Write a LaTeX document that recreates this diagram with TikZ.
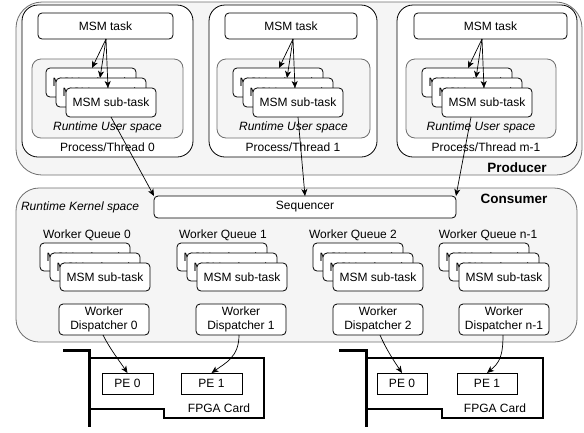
\documentclass[tikz,border=0pt]{standalone}
\usepackage{fontspec}
\setmainfont{Liberation Sans}
\usetikzlibrary{arrows.meta,calc}
\definecolor{contfill}{HTML}{F5F5F5}
\definecolor{contline}{HTML}{6E6E6E}
\begin{document}
\begin{tikzpicture}[x=1pt,y=-1pt,
  every node/.style={font=\fontsize{12}{14.4}\selectfont, inner sep=0pt, outer sep=0pt},
  box/.style={draw=black, line width=0.8pt, fill=white, rounded corners=4pt, anchor=north west},
  sub/.style={box, minimum width=90pt, minimum height=29pt},
  qsub/.style={box, minimum width=90pt, minimum height=28pt},
  disp/.style={box, minimum width=90pt, minimum height=31pt, align=center},
  cont/.style={draw=contline, fill=contfill, line width=0.8pt, anchor=north west},
  usr/.style={draw=contline, fill=contfill, line width=0.8pt, rounded corners=9pt, anchor=north west, minimum height=79pt},
  proc/.style={draw=black, fill=white, line width=0.8pt, rounded corners=16pt, anchor=north west, minimum height=152pt},
  task/.style={box, minimum height=26pt},
  pe/.style={draw=black, fill=white, line width=0.8pt, anchor=north west, minimum height=21pt},
  bold/.style={font=\fontsize{13.5}{16}\selectfont\bfseries},
  ital/.style={font=\fontsize{12}{14.4}\selectfont\itshape},
  arr/.style={-{Stealth[length=7pt,width=6pt,inset=2pt]}, line width=0.7pt},
  card/.style={line width=2pt, miter limit=10},
  bracket/.style={line width=3pt}
]
\useasboundingbox (0,0) rectangle (584,432);

% containers
\node[cont, rounded corners=26pt, minimum width=566pt, minimum height=173pt] (prod) at (16,2) {};
\node[cont, rounded corners=23pt, minimum width=561pt, minimum height=154pt] (cons) at (16,188) {};
\node[bold] (prodl) at (517,168) {Producer};
\node[bold] (consl) at (514,199) {Consumer};
\node[ital, anchor=west] (kern) at (21,207) {Runtime Kernel space};

% processes
\node[proc, minimum width=171pt] (P0) at (22,5) {};
\node[proc, minimum width=168pt] (P1) at (209,5) {};
\node[proc, minimum width=180pt] (P2) at (397,5) {};
\node[task, minimum width=135pt] (T0) at (38,13) {MSM task};
\node[task, minimum width=132pt] (T1) at (225,13) {MSM task};
\node[task, minimum width=153pt] (T2) at (414,13) {MSM task};
\node[usr, minimum width=151pt] (U0) at (32,59) {};
\node[usr, minimum width=153pt] (U1) at (217,59) {};
\node[usr, minimum width=150pt] (U2) at (406,59) {};
\node[ital] (U0l) at (107.5,127) {Runtime User space};
\node[ital] (U1l) at (293.5,127) {Runtime User space};
\node[ital] (U2l) at (481,127) {Runtime User space};
\node (P0l) at (107.5,147) {Process/Thread 0};
\node (P1l) at (293,147) {Process/Thread 1};
\node (P2l) at (486,147) {Process/Thread m-1};

% producer sub-tasks
\node[sub] (s01) at (46,68) {MSM sub-task};
\node[sub] (s02) at (56,78) {MSM sub-task};
\node[sub] (s03) at (66,88) {MSM sub-task};
\node[sub] (s11) at (233,68) {MSM sub-task};
\node[sub] (s12) at (243,78) {MSM sub-task};
\node[sub] (s13) at (253,88) {MSM sub-task};
\node[sub] (s21) at (422,68) {MSM sub-task};
\node[sub] (s22) at (432,78) {MSM sub-task};
\node[sub] (s23) at (442,88) {MSM sub-task};

\foreach \t/\s in {T0/s0,T1/s1,T2/s2}{
  \coordinate (\t o) at ($(\t.south west)+(68,0)$);
  \draw[arr] (\t o) -- ($(\s1.north west)+(46,0)$);
  \draw[arr] (\t o) -- ($(\s2.north west)+(44,0)$);
  \draw[arr] (\t o) -- ($(\s3.north west)+(42,0)$);
}

% sequencer
\node[box, minimum width=302pt, minimum height=22pt] (seq) at (154,196) {Sequencer};
\draw[arr] ($(s03.south west)+(45,0)$) -- (seq.north west);
\draw[arr] ($(s13.south west)+(45,0)$) -- (seq.north);
\draw[arr] ($(s23.south west)+(29,0)$) -- (seq.north east);

% worker queues
\node (q0l) at (87,235) {Worker Queue 0};
\node (q1l) at (223,235) {Worker Queue 1};
\node (q2l) at (353,235) {Worker Queue 2};
\node (q3l) at (488,235) {Worker Queue n-1};
\foreach \i/\x in {0/40,1/177,2/313,3/439}{
  \node[qsub] (q\i a) at (\x,243) {MSM sub-task};
  \node[qsub] (q\i b) at (\x+10,253) {MSM sub-task};
  \node[qsub] (q\i c) at (\x+20,263) {MSM sub-task};
}

% dispatchers
\node[disp] (d0) at (59,304) {Worker\\Dispatcher 0};
\node[disp] (d1) at (196,304) {Worker\\Dispatcher 1};
\node[disp] (d2) at (333,304) {Worker\\Dispatcher 2};
\node[disp] (d3) at (459,304) {Worker\\Dispatcher n-1};

% FPGA cards
\draw[card] (89,358) -- (264,358) -- (264,418) -- (164,418) -- (164,409) -- (89,409);
\draw[bracket] (63,350) -- (89,350) -- (89,427);
\draw[card] (366,358) -- (543,358) -- (543,418) -- (442,418) -- (442,409) -- (366,409);
\draw[bracket] (339,350) -- (366,350) -- (366,427);
\node[pe, minimum width=51pt] (pe10) at (102,373) {PE 0};
\node[pe, minimum width=61pt] (pe11) at (181,373) {PE 1};
\node[pe, minimum width=50pt] (pe20) at (377,373) {PE 0};
\node[pe, minimum width=60pt] (pe21) at (457,373) {PE 1};
\node (c1l) at (219,408) {FPGA Card};
\node (c2l) at (495,408) {FPGA Card};

\draw[arr] ($(d0.south)+(-1,0)$) .. controls ($(d0.south)+(6,14)$) and ($(pe10.north)+(-8,-12)$) .. (pe10.north);
\draw[arr] ($(d1.south)+(-2,0)$) .. controls ($(d1.south)+(-2,22)$) and ($(pe11.north)+(14,-10)$) .. (pe11.north);
\draw[arr] ($(d2.south)+(2,0)$) .. controls ($(d2.south)+(8,14)$) and ($(pe20.north)+(-8,-12)$) .. (pe20.north);
\draw[arr] ($(d3.south)+(-1,0)$) .. controls ($(d3.south)+(-1,22)$) and ($(pe21.north)+(12,-10)$) .. (pe21.north);
\end{tikzpicture}
\end{document}
